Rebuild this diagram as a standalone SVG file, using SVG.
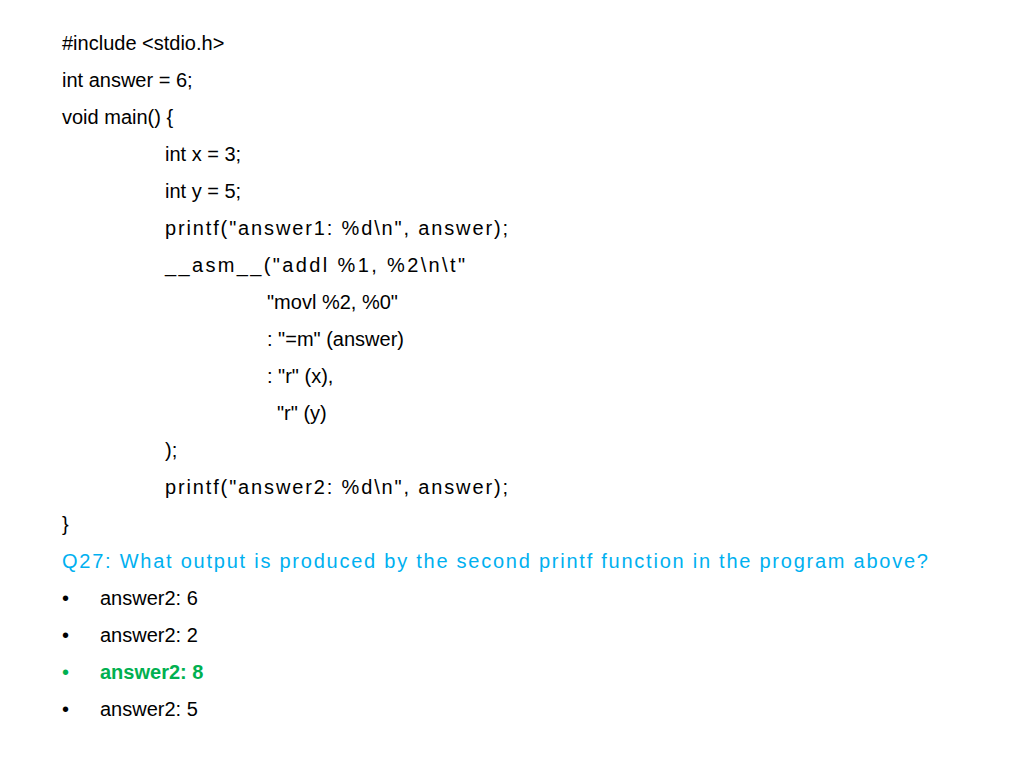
<svg xmlns="http://www.w3.org/2000/svg" width="1024" height="768" viewBox="0 0 1024 768">
<style>
text{font-family:"Liberation Sans",Arial,sans-serif;font-size:20px;fill:#000}
.q{fill:#00B0F0}
.g{fill:#00B050;font-weight:bold}
</style>
<rect width="1024" height="768" fill="#fff"/>
<g id="code">
<text x="62" y="50">#include &lt;stdio.h&gt;</text>
<text x="62" y="87">int answer = 6;</text>
<text x="62" y="124">void main() {</text>
<text x="165" y="161">int x = 3;</text>
<text x="165" y="198">int y = 5;</text>
<text x="165" y="235" textLength="343">printf("answer1: %d\n", answer);</text>
<text x="165" y="272" textLength="300">__asm__("addl %1, %2\n\t"</text>
<text x="267" y="309">"movl %2, %0"</text>
<text x="267" y="346">: "=m" (answer)</text>
<text x="267" y="383">: "r" (x),</text>
<text x="277" y="420">"r" (y)</text>
<text x="165" y="457">);</text>
<text x="165" y="494" textLength="343">printf("answer2: %d\n", answer);</text>
<text x="62" y="531">}</text>
</g>
<g id="question">
<text class="q" x="62" y="568" textLength="866">Q27: What output is produced by the second printf function in the program above?</text>
<text x="62" y="605">•</text><text x="100" y="605">answer2: 6</text>
<text x="62" y="642">•</text><text x="100" y="642">answer2: 2</text>
<text class="g" x="62" y="679" style="font-weight:normal">•</text><text class="g" x="100" y="679">answer2: 8</text>
<text x="62" y="716">•</text><text x="100" y="716">answer2: 5</text>
</g>
</svg>
